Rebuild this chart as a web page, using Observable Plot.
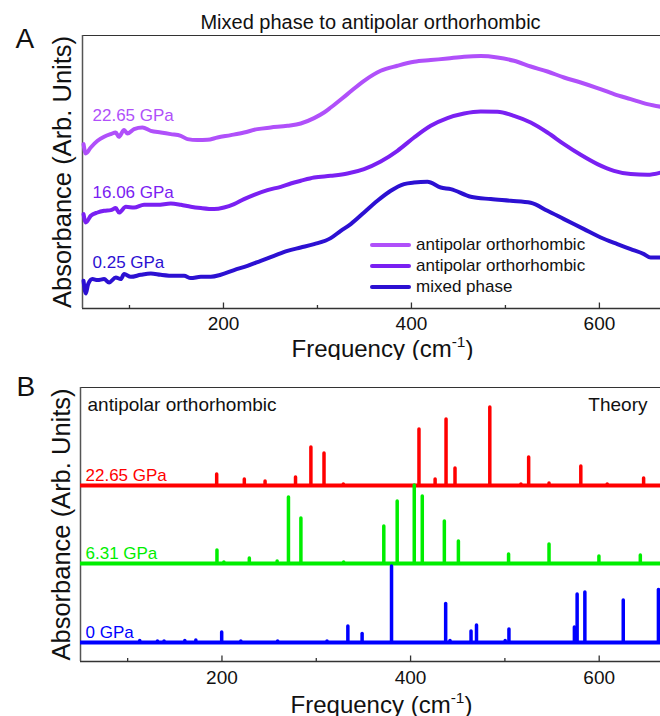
<!DOCTYPE html>
<html><head><meta charset="utf-8">
<script src="https://cdn.jsdelivr.net/npm/d3@7"></script>
<script src="https://cdn.jsdelivr.net/npm/@observablehq/plot@0.6"></script>
<style>
body{margin:0;background:#fff;font-family:"Liberation Sans",Arial,Helvetica,sans-serif;}
#wrap{position:relative;width:660px;height:716px;overflow:hidden;background:#fff}
#wrap svg{display:block}
.legend{position:absolute;left:370px;top:234px;font-size:17px;color:#111}
.legend .row{display:flex;align-items:center;height:21px;white-space:nowrap}
.legend .sw{display:inline-block;width:41px;height:4px;margin-right:5px;border-radius:2px}
</style></head><body><div id="wrap"></div>
<script>
// ---------- Panel A : measured spectra ----------
const titleA = "Mixed phase to antipolar orthorhombic";
const seriesNamesA = ["22.65 GPa", "16.06 GPa", "0.25 GPa"];
const legendLabelsA = ["antipolar orthorhombic", "antipolar orthorhombic", "mixed phase"];
const colorsA = ["#b050fa", "#7a20f2", "#2c10d2"];

const freqA1 = [51.1,53.5,58.8,66,73,80.1,85.4,88.6,94.3,97.9,104.9,113.8,122.7,133.3,143.9,154.6,161.7,172.3,183,193.6,207.8,221.9,236.2,250.3,268.1,282.2,296.4,307,314.1,331.9,349.6,367.3,385.1,402.8,420.5,438.3,456,473.7,491.5,509.1,526.9,544.7,562.3,580.1,597.9,615.5,633.3,651.1,665.3];
const absA1  = [164.4,155,161,167.7,171.7,174.4,176,171.7,178.4,175,179.4,181,177.7,176,174.4,172.7,169.4,168.4,168.7,171,173.4,176,179.4,181,182.7,185,190.4,196,201,214.4,227.7,237.7,242.7,246.7,248.4,250,251.7,252.4,251,247.7,242,237,231,226,220.4,214.4,209.4,204.4,201.7];

const freqA2 = [51.1,53.5,58.8,66,73,80.1,85.4,88.9,96.1,104.9,115.5,129.8,143.9,154.6,165.2,175.9,190,200.6,211.3,221.9,232.6,246.8,261,271.6,282.2,296.4,314.1,331.9,349.6,367.3,385.1,402.8,420.5,438.3,456,473.7,491.5,509.1,526.9,544.7,562.3,580.1,597.9,615.5,633.3,651.1,665.3];
const absA2  = [94.4,86,92.7,96,97.7,98.4,100.4,96,101.7,101,103.7,103.7,105,103.7,101.7,100.4,99.4,101,104.4,109.4,113.7,118.4,121.7,125,127.7,131,132.7,135,139.4,147,157.7,171,182.7,190.4,195,197,196.7,192.7,186,176,164.4,153.7,144.4,137.7,134.4,133.7,136];

const freqA3 = [51.1,53.5,56,60.6,66,73,78.3,85.4,90.7,94.3,101.4,112,122.7,133.3,147.4,158.1,165.2,175.9,186.5,197.1,211.3,225.5,239.7,253.8,268.1,282.2,296.4,314.1,324.8,335.4,349.6,363.8,378,392.1,402.8,417,431.2,441.8,463.1,484.4,505.6,526.9,544.7,562.3,583.6,601.4,619.1,633.3,647.4,654.5,665.3];
const absA3  = [27.7,15,24.4,29.4,28.4,29.4,26,31,29.4,34.4,31.7,33.7,35,33.7,32.7,32.7,30.4,31.7,31.7,33.7,38.4,42.7,47.7,52.7,57.7,61,64.4,70.4,77.7,84.4,96,107.7,117.7,124.4,126,126.7,121,119.4,111.7,109.4,107.7,105.7,97.7,89.4,79.4,71,64.4,59.4,54.4,51,51];

// ---------- Panel B : theory (peak positions / intensities) ----------
const cornerLabelB = "antipolar orthorhombic";
const theoryLabelB = "Theory";
const seriesNamesB = ["22.65 GPa", "6.31 GPa", "0 GPa"];
const colorsB = ["#ff0000", "#00ee00", "#0000ff"];
const offsetsB = [176, 98, 19];   // vertical stacking offsets (arb. units)

const peakFreqB1 = [194.4,223.7,245.7,278,294.3,308.2,328.7,408.9,426,437.6,447.1,484,517,525.2,546.8,580.5,608.5,647.1];
const peakIntB1  = [11,6,4,8,38,32,1,56,6,66,17,78,1,28,2,19,1,7];
const peakFreqB2 = [194.7,202,229,258.5,270.5,283.7,329,371.6,385.8,403.9,412.4,435.8,450.7,503.9,546.8,599.7,643.6];
const peakIntB2  = [13,1,5,2,66,45,1,37,62,78,67,42,22,9,19,7,8];
const peakFreqB3 = [112.8,131.6,138.6,160.6,172.3,199.7,220,259,311.4,333.5,348.6,379.8,437.2,441.8,464.1,469.9,500.3,504.3,573.7,576.6,584.8,625.5,662.8];
const peakIntB3  = [1.5,1,1,1.5,2,10,1,1,1,16,8.5,76,38.5,1.5,11,17,1.5,13,15,48,50,42,52.5];

// ---------- shared axis ----------
const xDomain = [50, 665];
const majorTicks = [200, 400, 600];
const minorTicks = [100, 300, 500];
const xLabel = "Frequency (cm-1)";
const yLabel = "Absorbance (Arb. Units)";

const FONT = '"Liberation Sans", Arial, Helvetica, sans-serif';
const AX = "#333";

// tidy tables
const tableA = [];
[[freqA1, absA1], [freqA2, absA2], [freqA3, absA3]].forEach(([fs, vs], i) => {
  fs.forEach((f, j) => tableA.push({f, v: vs[j], s: seriesNamesA[i]}));
});
const labelsA = seriesNamesA.map((name, i) => {
  const fs = [freqA1, freqA2, freqA3][i], vs = [absA1, absA2, absA3][i];
  let k = d3.minIndex(fs, f => Math.abs(f - 113));
  return {name, v: vs[k], color: colorsA[i]};
});
const peaksB = [];
[[peakFreqB1, peakIntB1], [peakFreqB2, peakIntB2], [peakFreqB3, peakIntB3]].forEach(([fs, hs], i) => {
  fs.forEach((f, j) => peaksB.push({f, base: offsetsB[i], top: offsetsB[i] + hs[j], s: seriesNamesB[i], color: colorsB[i]}));
});
const basesB = seriesNamesB.map((s, i) => ({s, base: offsetsB[i], color: colorsB[i]}));

function frameMarks(yTop, plotH, xLabelDy, yLabelDx) {
  return [
    Plot.ruleY([yTop], {stroke: AX, strokeWidth: 1.2}),
    Plot.ruleY([0], {stroke: AX, strokeWidth: 1.5}),
    Plot.ruleX([xDomain[0]], {stroke: "#555", strokeWidth: 1.5}),
    Plot.tickX(majorTicks, {x: d => d, insetTop: plotH - 5.5, stroke: AX, strokeWidth: 1.3}),
    Plot.tickX(minorTicks, {x: d => d, insetTop: plotH - 3, stroke: AX, strokeWidth: 1.3}),
    Plot.text([xLabel], {text: d => d, frameAnchor: "bottom", lineAnchor: "bottom", textAnchor: "middle",
      dx: 11, dy: xLabelDy, fontSize: 24, fill: "#111"}),
    Plot.text([yLabel], {text: d => d, frameAnchor: "left", rotate: -90, textAnchor: "middle", lineAnchor: "middle",
      dx: yLabelDx, fontSize: 25.5, fill: "#111"})
  ];
}

function superscript(svg) {
  svg.querySelectorAll("text").forEach(t => {
    if (t.textContent === xLabel) {
      t.textContent = "";
      const ns = "http://www.w3.org/2000/svg";
      const a = document.createElementNS(ns, "tspan"); a.textContent = "Frequency (cm";
      const b = document.createElementNS(ns, "tspan"); b.textContent = "-1";
      b.setAttribute("dy", "-10"); b.setAttribute("font-size", "15.5");
      const c = document.createElementNS(ns, "tspan"); c.textContent = ")";
      c.setAttribute("dy", "10");
      t.append(a, b, c);
    }
  });
}

const hA = 360, mtA = 35, mbA = 52, yTopA = 273;
const plotA = Plot.plot({
  width: 660, height: hA,
  marginLeft: 82, marginRight: 0, marginTop: mtA, marginBottom: mbA,
  style: {fontFamily: FONT, fontSize: "19px", color: "#111", background: "#fff"},
  x: {domain: xDomain, ticks: majorTicks, tickSize: 0, tickPadding: 8, label: null},
  y: {domain: [0, yTopA], axis: null},
  color: {domain: seriesNamesA, range: colorsA},
  marks: [
    ...frameMarks(yTopA, hA - mtA - mbA, 48, -20),
    Plot.line(tableA, {x: "f", y: "v", z: "s", stroke: "s", strokeWidth: 4, curve: "monotone-x",
      strokeLinejoin: "round", strokeLinecap: "round"}),
    Plot.text(labelsA, {y: "v", text: "name", fill: "color", frameAnchor: "left", textAnchor: "start",
      dx: 10, dy: -12, fontSize: 17}),
    Plot.text([titleA], {text: d => d, frameAnchor: "top", lineAnchor: "bottom", dx: -1, dy: -7, fontSize: 20, fill: "#111"}),
    Plot.text(["A"], {text: d => d, frameAnchor: "top-left", textAnchor: "start", lineAnchor: "bottom",
      dx: -67, dy: 12, fontSize: 28, fill: "#111"})
  ]
});

const hB = 356, mtB = 27, mbB = 55, yTopB = 274;
const plotB = Plot.plot({
  width: 660, height: hB,
  marginLeft: 80, marginRight: 0, marginTop: mtB, marginBottom: mbB,
  style: {fontFamily: FONT, fontSize: "19px", color: "#111", background: "#fff"},
  x: {domain: xDomain, ticks: majorTicks, tickSize: 0, tickPadding: 9, label: null},
  y: {domain: [0, yTopB], axis: null},
  marks: [
    ...frameMarks(yTopB, hB - mtB - mbB, 51, -19),
    Plot.ruleY(basesB, {y: "base", stroke: "color", strokeWidth: 4}),
    Plot.ruleX(peaksB, {x: "f", y1: "base", y2: "top", stroke: "color", strokeWidth: 3.5, strokeLinecap: "round"}),
    Plot.text(basesB, {y: "base", text: "s", fill: "color", frameAnchor: "left", textAnchor: "start",
      dx: 5, dy: -10, fontSize: 17}),
    Plot.text([cornerLabelB], {text: d => d, frameAnchor: "top-left", textAnchor: "start", lineAnchor: "bottom",
      dx: 7, dy: 23, fontSize: 19, fill: "#111"}),
    Plot.text([theoryLabelB], {text: d => d, frameAnchor: "top-right", textAnchor: "end", lineAnchor: "bottom",
      dx: -13, dy: 23, fontSize: 19, fill: "#111"}),
    Plot.text(["B"], {text: d => d, frameAnchor: "top-left", textAnchor: "start", lineAnchor: "bottom",
      dx: -64, dy: 8, fontSize: 28, fill: "#111"})
  ]
});

superscript(plotA); superscript(plotB);
const wrap = document.getElementById("wrap");
wrap.append(plotA, plotB);

// legend for panel A (drawn from the same series arrays)
const leg = document.createElement("div");
leg.className = "legend";
legendLabelsA.forEach((lab, i) => {
  const row = document.createElement("div"); row.className = "row";
  const sw = document.createElement("span"); sw.className = "sw"; sw.style.background = colorsA[i];
  const tx = document.createElement("span"); tx.textContent = lab;
  row.append(sw, tx); leg.append(row);
});
wrap.append(leg);
</script></body></html>
